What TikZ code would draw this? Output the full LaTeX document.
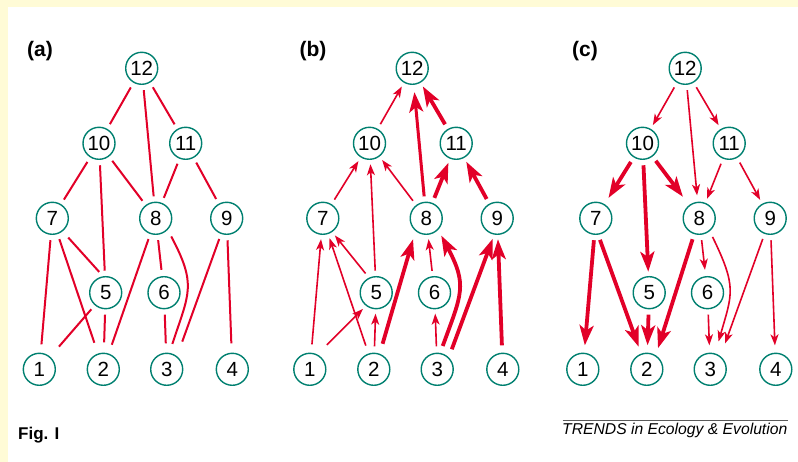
\documentclass[tikz,border=0pt]{standalone}
\usepackage{fontspec}
\setmainfont{Liberation Sans}
\usetikzlibrary{arrows.meta}
\definecolor{bgyellow}{RGB}{255,251,214}
\definecolor{edgered}{RGB}{226,0,40}
\definecolor{nodeteal}{RGB}{0,128,112}
\definecolor{rulegray}{RGB}{90,90,90}
\tikzset{
  vnode/.style={circle, draw=nodeteal, line width=1.4pt, minimum size=32pt,
    inner sep=0pt, outer sep=4pt, fill=white, text=black,
    font=\fontsize{20.5}{20.5}\selectfont},
  panellabel/.style={inner sep=0pt, font=\bfseries\fontsize{21}{21}\selectfont},
  plainedge/.style={draw=edgered, line width=2pt, shorten <=2pt, shorten >=2pt},
  thinarr/.style={draw=edgered, line width=1.6pt, shorten <=2pt, shorten >=1pt,
    -{Stealth[length=11pt,width=8pt,inset=3pt]}},
  thickarr/.style={draw=edgered, line width=3.8pt, shorten <=2pt, shorten >=1pt,
    -{Stealth[length=20pt,width=14pt,inset=5pt]}}
}
\newcommand{\mkpanel}[2]{%
  \begin{scope}[xshift=#2pt]
    \node[vnode] (#112) at (141.7,393.7) {12};
    \node[vnode] (#110) at (99.0,318.7) {10};
    \node[vnode] (#111) at (185.7,318.7) {11};
    \node[vnode] (#17) at (52.3,243.7) {7};
    \node[vnode] (#18) at (155.7,243.7) {8};
    \node[vnode] (#19) at (226.7,243.7) {9};
    \node[vnode] (#15) at (105.7,169.3) {5};
    \node[vnode] (#16) at (164.0,169.3) {6};
    \node[vnode] (#11) at (39.3,92.7) {1};
    \node[vnode] (#12) at (103.3,92.7) {2};
    \node[vnode] (#13) at (166.7,92.7) {3};
    \node[vnode] (#14) at (232.3,92.7) {4};
  \end{scope}}
\begin{document}
\begin{tikzpicture}[x=1pt,y=1pt]
  \useasboundingbox (0,0) rectangle (798,462);
  \fill[bgyellow] (0,0) rectangle (798,462);
  \fill[white] (7.5,0) rectangle (798,454.5);

  % panel labels
  \node[panellabel] (la) at (40,411) {(a)};
  \node[panellabel] (lb) at (313,411) {(b)};
  \node[panellabel] (lc) at (585,411) {(c)};

  \mkpanel{a}{0}
  \mkpanel{b}{270.5}
  \mkpanel{c}{543.5}

  % ---------------- panel (a)
  \draw[plainedge] (a12) -- (a10);
  \draw[plainedge] (a12) -- (a8);
  \draw[plainedge] (a12) -- (a11);
  \draw[plainedge] (a10) -- (a7);
  \draw[plainedge] (a10) -- (a5);
  \draw[plainedge] (a10) -- (a8);
  \draw[plainedge] (a11) -- (a8);
  \draw[plainedge] (a11) -- (a9);
  \draw[plainedge, shorten >=5pt] (a7) -- (a1);
  \draw[plainedge, shorten >=8pt] (a7) -- (a2);
  \draw[plainedge, shorten <=5pt] (a7.-51) -- (a5.105);
  \draw[plainedge, shorten >=6pt] (a8) -- (a2);
  \draw[plainedge, shorten >=3pt] (a8) -- (a6);
  \draw[plainedge, shorten <=4pt, shorten >=6pt] (a8.-47) to[out=-62,in=72,looseness=1.3] (a3.79);
  \draw[plainedge, shorten >=12pt] (a9) -- (a3.55);
  \draw[plainedge, shorten >=6pt] (a9) -- (a4);
  \draw[plainedge, shorten >=10pt] (a5) -- (a1);
  \draw[plainedge, shorten >=7pt] (a5) -- (a2);
  \draw[plainedge, shorten >=6pt] (a6) -- (a3);

  % ---------------- panel (b)
  \draw[thinarr] (b10) -- (b12);
  \draw[thickarr, line width=3pt, shorten >=4pt] (b8) -- (b12);
  \draw[thickarr] (b11) -- (b12);
  \draw[thinarr] (b7) -- (b10);
  \draw[thinarr] (b5) -- (b10);
  \draw[thinarr] (b8) -- (b10);
  \draw[thickarr] (b8) -- (b11);
  \draw[thickarr] (b9) -- (b11);
  \draw[thinarr, shorten <=5pt] (b1) -- (b7);
  \draw[thinarr, shorten <=5pt] (b2) -- (b7);
  \draw[thinarr] (b5.118) -- (b7.-55);
  \draw[thinarr, shorten <=10pt] (b1.60) -- (b5.231);
  \draw[thinarr, shorten <=3pt] (b2) -- (b5);
  \draw[thickarr, shorten <=7pt, shorten >=5pt] (b2.70) -- (b8.234);
  \draw[thinarr] (b6) -- (b8);
  \draw[thickarr, shorten <=4pt, shorten >=3pt] (b3.78) to[out=70,in=-62,looseness=1.3] (b8.-47);
  \draw[thinarr, shorten <=3pt] (b3) -- (b6);
  \draw[thickarr, shorten <=5pt] (b3.50) -- (b9.258);
  \draw[thickarr, shorten <=4pt] (b4) -- (b9);

  % ---------------- panel (c)
  \draw[thinarr] (c12) -- (c10);
  \draw[thinarr, shorten >=3pt] (c12) -- (c8);
  \draw[thinarr] (c12) -- (c11);
  \draw[thickarr, shorten >=4pt] (c10) -- (c7);
  \draw[thickarr] (c10) -- (c5);
  \draw[thickarr, shorten >=7pt] (c10) -- (c8);
  \draw[thinarr] (c11) -- (c8);
  \draw[thinarr] (c11) -- (c9);
  \draw[thickarr, shorten >=4pt] (c7) -- (c1);
  \draw[thickarr, shorten >=4pt] (c7.-80) -- (c2);
  \draw[thickarr, shorten >=4pt] (c5) -- (c2);
  \draw[thickarr, shorten >=4pt] (c8) -- (c2.60);
  \draw[thinarr, shorten >=3pt] (c8) -- (c6);
  \draw[thinarr, shorten <=3pt, shorten >=9pt] (c8.-53) to[out=-64,in=74,looseness=1.3] (c3.73);
  \draw[thinarr, shorten >=4pt] (c6) -- (c3);
  \draw[thinarr, shorten >=10pt] (c9) -- (c3.55);
  \draw[thinarr, shorten >=4pt] (c9) -- (c4);

  % ---------------- footer
  \node[inner sep=0pt, anchor=base west, font=\bfseries\fontsize{17}{17}\selectfont] (fig) at (18,22) {Fig. I};
  \node[inner sep=0pt, anchor=base west, font=\itshape\fontsize{15.7}{15.7}\selectfont] (trends) at (562,27) {TRENDS in Ecology \& Evolution};
  \coordinate (ruleL) at (562.5,41.3);
  \coordinate (ruleR) at (788,41.3);
  \draw[rulegray, line width=0.8pt] (ruleL) -- (ruleR);
\end{tikzpicture}
\end{document}
